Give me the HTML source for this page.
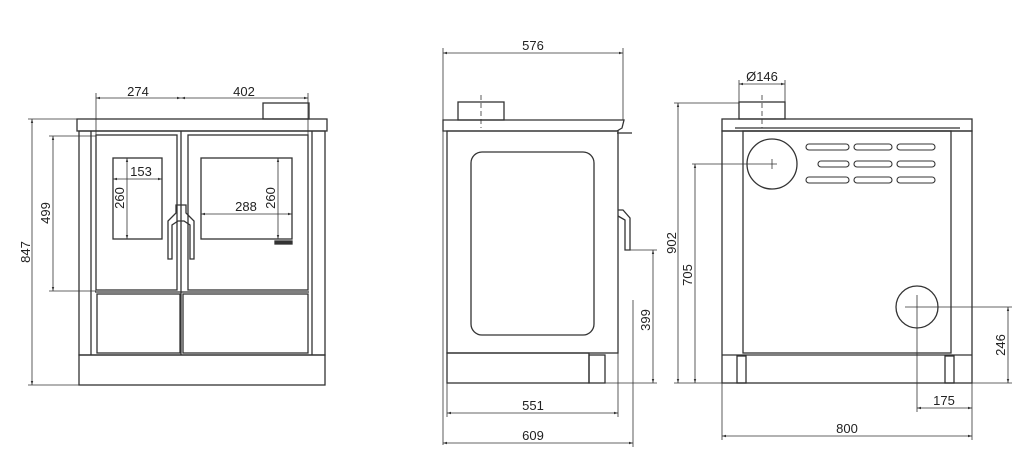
<!DOCTYPE html>
<html><head><meta charset="utf-8"><style>
html,body{margin:0;padding:0;background:#fff}
svg{display:block}
text{font-family:"Liberation Sans",sans-serif;font-size:13px;fill:#222}
</style></head><body>
<svg width="1024" height="464" viewBox="0 0 1024 464" xmlns="http://www.w3.org/2000/svg">
<defs>
<marker id="a" viewBox="0 0 10 10" refX="10" refY="5" markerWidth="7" markerHeight="5" orient="auto-start-reverse"><path d="M0,2 L10,5 L0,8 z" fill="#333"/></marker>
</defs>
<g fill="none" stroke="#333" stroke-width="1.3">
<!-- FRONT VIEW -->
<rect x="77" y="119" width="250" height="12"/>
<rect x="263" y="103" width="46" height="16"/>
<rect x="79" y="131" width="246" height="224"/>
<line x1="91" y1="131" x2="91" y2="355"/>
<line x1="312" y1="131" x2="312" y2="355"/>
<rect x="79" y="355" width="246" height="30"/>
<rect x="96" y="135" width="81" height="155"/>
<rect x="188" y="135" width="120" height="155"/>
<line x1="95" y1="292" x2="309" y2="292"/>
<line x1="181" y1="131" x2="181" y2="355"/>
<rect x="113" y="158" width="49" height="81"/>
<rect x="201" y="158" width="91" height="81"/>
<rect x="97" y="294" width="83" height="59"/>
<rect x="183" y="294" width="125" height="59"/>
<rect x="275" y="241" width="17" height="3" fill="#333"/>
<path d="M176,205 h10 v8 l8,8 v38 h-4 v-34 l-6,-4 h-6 l-6,4 v34 h-4 v-38 l8,-8z"/>
<!-- front dims -->
<g stroke-width="0.8">
<line x1="96" y1="93" x2="96" y2="135"/>
<line x1="308" y1="93" x2="308" y2="135"/>
<line x1="96" y1="98" x2="181" y2="98" marker-start="url(#a)" marker-end="url(#a)"/>
<line x1="181" y1="98" x2="308" y2="98" marker-start="url(#a)" marker-end="url(#a)"/>
<line x1="28" y1="119" x2="77" y2="119"/>
<line x1="28" y1="385" x2="79" y2="385"/>
<line x1="32" y1="119" x2="32" y2="385" marker-start="url(#a)" marker-end="url(#a)"/>
<line x1="49" y1="136" x2="96" y2="136"/>
<line x1="49" y1="291" x2="96" y2="291"/>
<line x1="53" y1="136" x2="53" y2="291" marker-start="url(#a)" marker-end="url(#a)"/>
<line x1="113" y1="179" x2="162" y2="179" marker-start="url(#a)" marker-end="url(#a)"/>
<line x1="127" y1="158" x2="127" y2="239" marker-start="url(#a)" marker-end="url(#a)"/>
<line x1="201" y1="214" x2="292" y2="214" marker-start="url(#a)" marker-end="url(#a)"/>
<line x1="278" y1="158" x2="278" y2="239" marker-start="url(#a)" marker-end="url(#a)"/>
</g>
<!-- SIDE VIEW -->
<rect x="458" y="102" width="46" height="18"/>
<line x1="481" y1="95" x2="481" y2="128" stroke-dasharray="5,3" stroke-width="0.8"/>
<path d="M443,120 H624 L622,128 L617,131 H443 Z"/>
<line x1="617" y1="133" x2="632" y2="133"/>
<rect x="447" y="131" width="171" height="222"/>
<rect x="471" y="152" width="123" height="183" rx="11"/>
<rect x="447" y="353" width="142" height="30"/>
<rect x="589" y="355" width="16" height="28"/>
<path d="M618,210 h5 l7,8 v32 h-5 v-30 l-7,-4"/>
<g stroke-width="0.8">
<line x1="443" y1="48" x2="443" y2="445"/>
<line x1="623" y1="48" x2="623" y2="120"/>
<line x1="443" y1="53" x2="623" y2="53" marker-start="url(#a)" marker-end="url(#a)"/>
<line x1="630" y1="250" x2="657" y2="250"/>
<line x1="605" y1="383" x2="657" y2="383"/>
<line x1="653" y1="250" x2="653" y2="383" marker-start="url(#a)" marker-end="url(#a)"/>
<line x1="447" y1="383" x2="447" y2="417"/>
<line x1="618" y1="353" x2="618" y2="417"/>
<line x1="447" y1="413" x2="618" y2="413" marker-start="url(#a)" marker-end="url(#a)"/>
<line x1="633" y1="300" x2="633" y2="447"/>
<line x1="443" y1="443" x2="633" y2="443" marker-start="url(#a)" marker-end="url(#a)"/>
</g>
<!-- REAR VIEW -->
<rect x="739" y="102" width="46" height="17"/>
<line x1="762" y1="95" x2="762" y2="128" stroke-dasharray="5,3" stroke-width="0.8"/>
<rect x="722" y="119" width="250" height="12"/>
<line x1="735" y1="128" x2="960" y2="128"/>
<rect x="722" y="131" width="250" height="252"/>
<rect x="743" y="131" width="208" height="222"/>
<line x1="722" y1="355" x2="972" y2="355"/>
<rect x="737" y="356" width="9" height="27"/>
<rect x="945" y="356" width="9" height="27"/>
<circle cx="772" cy="164" r="25"/>
<circle cx="917" cy="307" r="21"/>
<g stroke-width="1.1">
<rect x="806" y="144" width="43" height="6" rx="3"/><rect x="854" y="144" width="38" height="6" rx="3"/><rect x="897" y="144" width="38" height="6" rx="3"/>
<rect x="818" y="161" width="31" height="6" rx="3"/><rect x="854" y="161" width="38" height="6" rx="3"/><rect x="897" y="161" width="38" height="6" rx="3"/>
<rect x="806" y="177" width="43" height="6" rx="3"/><rect x="854" y="177" width="38" height="6" rx="3"/><rect x="897" y="177" width="38" height="6" rx="3"/>
</g>
<g stroke-width="0.8">
<line x1="739" y1="80" x2="739" y2="102"/>
<line x1="785" y1="80" x2="785" y2="102"/>
<line x1="739" y1="84" x2="785" y2="84" marker-start="url(#a)" marker-end="url(#a)"/>
<line x1="674" y1="103" x2="739" y2="103"/>
<line x1="674" y1="383" x2="1012" y2="383"/>
<line x1="678" y1="103" x2="678" y2="383" marker-start="url(#a)" marker-end="url(#a)"/>
<line x1="692" y1="164" x2="777" y2="164"/>
<line x1="772" y1="159" x2="772" y2="169"/>
<line x1="695" y1="164" x2="695" y2="383" marker-start="url(#a)" marker-end="url(#a)"/>
<line x1="905" y1="307" x2="1012" y2="307"/>
<line x1="917" y1="295" x2="917" y2="412"/>
<line x1="1008" y1="307" x2="1008" y2="383" marker-start="url(#a)" marker-end="url(#a)"/>
<line x1="972" y1="383" x2="972" y2="440"/>
<line x1="722" y1="383" x2="722" y2="440"/>
<line x1="917" y1="408" x2="972" y2="408" marker-start="url(#a)" marker-end="url(#a)"/>
<line x1="722" y1="436" x2="972" y2="436" marker-start="url(#a)" marker-end="url(#a)"/>
</g>
</g>
<!-- labels -->
<text x="138" y="96" text-anchor="middle">274</text>
<text x="244" y="96" text-anchor="middle">402</text>
<text transform="translate(30,252) rotate(-90)" text-anchor="middle">847</text>
<text transform="translate(50,213) rotate(-90)" text-anchor="middle">499</text>
<text x="141" y="176" text-anchor="middle">153</text>
<text transform="translate(124,198) rotate(-90)" text-anchor="middle">260</text>
<text x="246" y="211" text-anchor="middle">288</text>
<text transform="translate(275,198) rotate(-90)" text-anchor="middle">260</text>
<text x="533" y="50" text-anchor="middle">576</text>
<text transform="translate(650,320) rotate(-90)" text-anchor="middle">399</text>
<text x="533" y="410" text-anchor="middle">551</text>
<text x="533" y="440" text-anchor="middle">609</text>
<text x="762" y="81" text-anchor="middle">Ø146</text>
<text transform="translate(676,243) rotate(-90)" text-anchor="middle">902</text>
<text transform="translate(692,275) rotate(-90)" text-anchor="middle">705</text>
<text transform="translate(1005,345) rotate(-90)" text-anchor="middle">246</text>
<text x="944" y="405" text-anchor="middle">175</text>
<text x="847" y="433" text-anchor="middle">800</text>
</svg>
</body></html>
